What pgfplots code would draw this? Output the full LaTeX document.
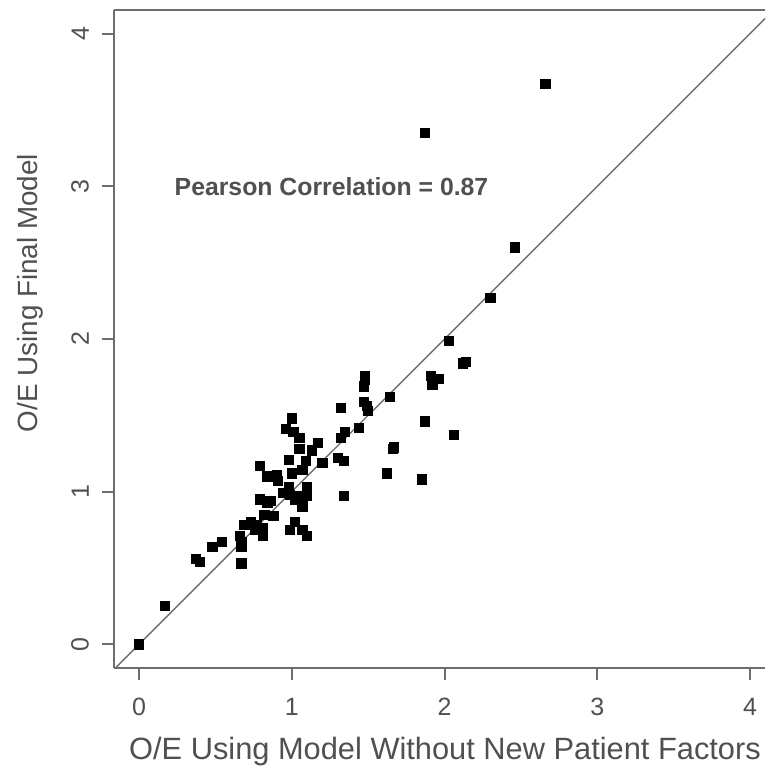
\documentclass[border=0pt]{standalone}
\usepackage{fontspec}
\setmainfont{Liberation Sans}
\usepackage{pgfplots}
\usepackage{pgfplotstable}
\pgfplotsset{compat=1.18}

\definecolor{txtgray}{HTML}{505050}
\definecolor{linegray}{HTML}{6E6E6E}

% O/E without new patient factors (x) vs final model (y)
\pgfplotstableread{
x y
0.00 0.00
0.17 0.25
0.37 0.56
0.40 0.54
0.48 0.64
0.54 0.67
0.67 0.53
0.66 0.71
0.67 0.67
0.67 0.64
0.69 0.78
0.73 0.80
0.77 0.78
0.76 0.75
0.81 0.76
0.81 0.71
0.82 0.85
0.88 0.84
0.79 0.95
0.84 0.93
0.86 0.94
0.99 0.75
1.02 0.80
1.07 0.75
1.10 0.71
0.79 1.17
0.84 1.10
0.90 1.11
0.91 1.07
0.98 1.21
1.00 1.48
0.96 1.41
1.01 1.39
1.05 1.35
1.05 1.28
1.00 1.12
1.09 1.20
1.07 1.14
1.13 1.27
1.17 1.32
1.20 1.19
0.94 0.99
0.98 1.03
0.99 0.98
1.02 0.95
1.05 0.97
1.07 0.93
1.07 0.90
1.10 0.97
1.10 1.03
1.32 1.55
1.32 1.35
1.35 1.39
1.30 1.22
1.34 1.20
1.34 0.97
1.44 1.42
1.48 1.76
1.48 1.73
1.47 1.69
1.47 1.59
1.49 1.56
1.50 1.53
1.64 1.62
1.67 1.29
1.66 1.28
1.62 1.12
1.85 1.08
1.87 1.46
2.06 1.37
1.91 1.76
1.96 1.74
1.92 1.70
2.14 1.85
2.12 1.84
2.03 1.99
2.30 2.27
2.46 2.60
1.87 3.35
2.66 3.67
}\oedata

\begin{document}
\begin{tikzpicture}
\begin{axis}[
  scale only axis,
  width=325.5pt, height=329pt,
  xmin=-0.164, xmax=4.098,
  ymin=-0.155, ymax=4.155,
  separate axis lines,
  axis x line*=box, axis y line*=left,
  axis line style={linegray, line width=1pt},
  xtick={0,1,2,3,4}, ytick={0,1,2,3,4},
  xtick pos=bottom, ytick pos=left,
  tick align=outside,
  major tick length=6pt,
  tick style={linegray, line width=1pt},
  /pgf/number format/assume math mode=true,
  ticklabel style={font=\fontsize{12.5}{14}\selectfont, text=txtgray},
  xticklabel style={yshift=-5.5pt},
  yticklabel style={xshift=-3pt, rotate=90, anchor=south},
  xlabel={O/E Using Model Without New Patient Factors},
  xlabel style={font=\fontsize{15.4}{18}\selectfont, text=txtgray,
    at={([xshift=2.75pt, yshift=-42pt]axis description cs:0.5,0)}, anchor=center},
  ylabel={O/E Using Final Model},
  ylabel style={font=\fontsize{13.9}{16}\selectfont, text=txtgray,
    at={([xshift=-42pt, yshift=23pt]axis description cs:0,0.5)}, anchor=center},
]
\addplot[linegray, line width=0.7pt] coordinates {(-0.3,-0.3) (4.3,4.3)};
\addplot[only marks, mark=square*, mark size=2.3pt, black] table {\oedata};
\node[font=\bfseries\fontsize{12.4}{15}\selectfont, text=txtgray] at (axis cs:1.26,3.0) {Pearson Correlation = 0.87};
\coordinate (bl) at (rel axis cs:0,0);
\end{axis}
\pgfresetboundingbox
\path[use as bounding box] ([shift={(-57pt,-53.5pt)}]bl) rectangle ([shift={(325.5pt,334pt)}]bl);
\end{tikzpicture}
\end{document}
